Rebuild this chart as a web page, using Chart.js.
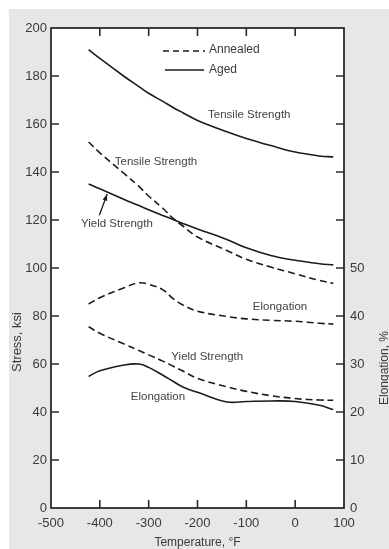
<!DOCTYPE html>
<html>
<head>
<meta charset="utf-8">
<script src="https://cdn.jsdelivr.net/npm/chart.js@4"></script>
<style>
    html, body { margin: 0; padding: 0; background: #fff; }
    #wrap { width: 389px; height: 549px; }
</style>
</head>
<body>
<div id="wrap"><canvas id="chart" width="389" height="549"></canvas></div>
<script>
// temperature, deg F
const tempF = [-423, -400, -350, -320, -300, -270, -250, -230, -200, -140, -100, -50, 0, 50, 78];

// stress, ksi
const agedTensile = [191, 187.3, 179.8, 175.6, 172.8, 169.3, 166.9, 164.7, 161.5, 156.8, 154, 151, 148.3, 146.7, 146.3];
const annealedTensile = [152.5, 148, 139.3, 134, 130, 124.7, 120.7, 117.5, 112.9, 107.3, 103.6, 100.4, 97.6, 94.8, 93.6];
const agedYield = [135, 133, 128.5, 126, 124.3, 121.8, 120.2, 118.5, 116.3, 111.9, 108.4, 105.2, 103.2, 101.8, 101.3];
const annealedYield = [75.5, 72.8, 68.3, 65.6, 63.8, 61.1, 59.1, 57.1, 54, 50.5, 48.6, 46.8, 45.6, 45, 44.9];

// elongation, %
const annealedElong = [42.5, 43.8, 45.9, 46.9, 46.6, 45.4, 43.6, 42.3, 41, 39.9, 39.4, 39.1, 38.9, 38.5, 38.3];
const agedElong = [27.4, 28.6, 29.8, 30, 29.3, 27.6, 26.4, 25.2, 24.1, 22.1, 22.2, 22.3, 22.2, 21.4, 20.5];

const yTicks = [0, 20, 40, 60, 80, 100, 120, 140, 160, 180, 200];
const y2Labels = [0, 10, 20, 30, 40, 50];

// curve labels in data units (x: deg F, y: ksi)
const curveLabels = [
    { text: "Tensile Strength", x: -94, y: 163.8 },
    { text: "Tensile Strength", x: -285, y: 144.2 },
    { text: "Yield Strength", x: -365, y: 118.3 },
    { text: "Elongation", x: -31, y: 83.8 },
    { text: "Yield Strength", x: -180, y: 62.9 },
    { text: "Elongation", x: -281, y: 46.3 },
];

const INK = "#1c1c1c";
const TEXT = "#3a3a3a";
const FONT = "'Liberation Sans', Arial, sans-serif";

function series(values) {
    return tempF.map((t, i) => ({ x: t, y: values[i] }));
}

function line(values, dashed, axis) {
    return {
        data: series(values),
        yAxisID: axis,
        borderColor: INK,
        borderWidth: 1.6,
        borderDash: dashed ? [7, 4] : [],
        pointRadius: 0,
        fill: false,
        tension: 0.4,
    };
}

const panelPlugin = {
    id: "panel",
    beforeDraw(chart) {
        let { ctx, chartArea: a } = chart;
        ctx.save();
        ctx.fillStyle = "#fff";
        ctx.fillRect(0, 0, chart.width, chart.height);
        ctx.fillStyle = "#e6e7e9";
        ctx.fillRect(9, 9, chart.width - 9, chart.height - 9);
        ctx.fillStyle = "#fff";
        ctx.fillRect(a.left, a.top, a.right - a.left, a.bottom - a.top);
        ctx.restore();
    },
    afterDraw(chart) {
        let { ctx, chartArea: a, scales } = chart;
        ctx.save();
        ctx.strokeStyle = "#2a2a2a";
        ctx.lineWidth = 1.8;
        ctx.strokeRect(a.left, a.top, a.right - a.left, a.bottom - a.top);

        // inward tick marks
        ctx.lineWidth = 1.6;
        ctx.beginPath();
        scales.x.ticks.forEach(({ value }) => {
            if (value <= -500 || value >= 100) return;
            let px = scales.x.getPixelForValue(value);
            ctx.moveTo(px, a.bottom); ctx.lineTo(px, a.bottom - 8);
            ctx.moveTo(px, a.top); ctx.lineTo(px, a.top + 8);
        });
        scales.y.ticks.forEach(({ value }) => {
            if (value <= 0 || value >= 200) return;
            let py = scales.y.getPixelForValue(value);
            ctx.moveTo(a.left, py); ctx.lineTo(a.left + 8, py);
        });
        scales.y2.ticks.forEach(({ value }) => {
            if (value <= 0 || value >= 100) return;
            let py = scales.y2.getPixelForValue(value);
            ctx.moveTo(a.right, py); ctx.lineTo(a.right - 8, py);
        });
        ctx.stroke();

        // curve labels
        ctx.fillStyle = "#444";
        ctx.font = `11.5px ${FONT}`;
        ctx.textAlign = "center";
        ctx.textBaseline = "middle";
        curveLabels.forEach(({ text, x, y }) => {
            ctx.fillText(text, scales.x.getPixelForValue(x), scales.y.getPixelForValue(y));
        });

        // arrow to aged yield curve
        let x0 = scales.x.getPixelForValue(-401), y0 = scales.y.getPixelForValue(122);
        let x1 = scales.x.getPixelForValue(-385), y1 = scales.y.getPixelForValue(130.8);
        ctx.strokeStyle = INK;
        ctx.lineWidth = 1.3;
        ctx.beginPath();
        ctx.moveTo(x0, y0); ctx.lineTo(x1, y1);
        ctx.stroke();
        let ang = Math.atan2(y1 - y0, x1 - x0);
        ctx.fillStyle = INK;
        ctx.beginPath();
        ctx.moveTo(x1, y1);
        ctx.lineTo(x1 - 7 * Math.cos(ang - 0.35), y1 - 7 * Math.sin(ang - 0.35));
        ctx.lineTo(x1 - 7 * Math.cos(ang + 0.35), y1 - 7 * Math.sin(ang + 0.35));
        ctx.closePath();
        ctx.fill();

        // legend
        ctx.lineWidth = 1.6;
        ctx.setLineDash([6, 4]);
        ctx.beginPath(); ctx.moveTo(163, 51); ctx.lineTo(205, 51); ctx.stroke();
        ctx.setLineDash([]);
        ctx.beginPath(); ctx.moveTo(165, 70); ctx.lineTo(204, 70); ctx.stroke();
        ctx.fillStyle = TEXT;
        ctx.font = `12px ${FONT}`;
        ctx.textAlign = "left";
        ctx.fillText("Annealed", 209, 50);
        ctx.fillText("Aged", 209, 70);

        // axis titles
        ctx.textAlign = "center";
        ctx.textBaseline = "alphabetic";
        ctx.fillText("Temperature, \u00B0F", (a.left + a.right) / 2, 546);
        ctx.save();
        ctx.translate(21, 342);
        ctx.rotate(-Math.PI / 2);
        ctx.font = `13px ${FONT}`;
        ctx.fillText("Stress, ksi", 0, 0);
        ctx.restore();
        ctx.save();
        ctx.translate(388, 368);
        ctx.rotate(-Math.PI / 2);
        ctx.fillText("Elongation, %", 0, 0);
        ctx.restore();
        ctx.restore();
    },
};

new Chart(document.getElementById("chart"), {
    type: "line",
    data: {
        datasets: [
            line(agedTensile, false, "y"),
            line(annealedTensile, true, "y"),
            line(agedYield, false, "y"),
            line(annealedYield, true, "y"),
            line(annealedElong, true, "y2"),
            line(agedElong, false, "y2"),
        ],
    },
    options: {
        responsive: false,
        animation: false,
        devicePixelRatio: 1,
        layout: { padding: { top: 28, left: 0, right: 0, bottom: 0 } },
        plugins: { legend: { display: false }, tooltip: { enabled: false } },
        scales: {
            x: {
                type: "linear",
                min: -500,
                max: 100,
                grid: { display: false, drawTicks: false },
                border: { display: false },
                ticks: { stepSize: 100, autoSkip: false, maxRotation: 0, padding: 8, color: TEXT, font: { size: 13, family: FONT } },
                afterFit: (s) => { s.height = 41; },
            },
            y: {
                position: "left",
                min: 0,
                max: 200,
                grid: { display: false, drawTicks: false },
                border: { display: false },
                ticks: { stepSize: 20, autoSkip: false, padding: 4, color: TEXT, font: { size: 13, family: FONT } },
                afterBuildTicks: (s) => { s.ticks = yTicks.map((value) => ({ value })); },
                afterFit: (s) => { s.width = 51; },
            },
            y2: {
                position: "right",
                min: 0,
                max: 100,
                grid: { display: false, drawTicks: false },
                border: { display: false },
                ticks: {
                    stepSize: 10,
                    autoSkip: false,
                    padding: 6,
                    color: TEXT,
                    font: { size: 13, family: FONT },
                    callback: (v) => (y2Labels.includes(v) ? v : ""),
                },
                afterFit: (s) => { s.width = 45; },
            },
        },
    },
    plugins: [panelPlugin],
});
</script>
</body>
</html>
